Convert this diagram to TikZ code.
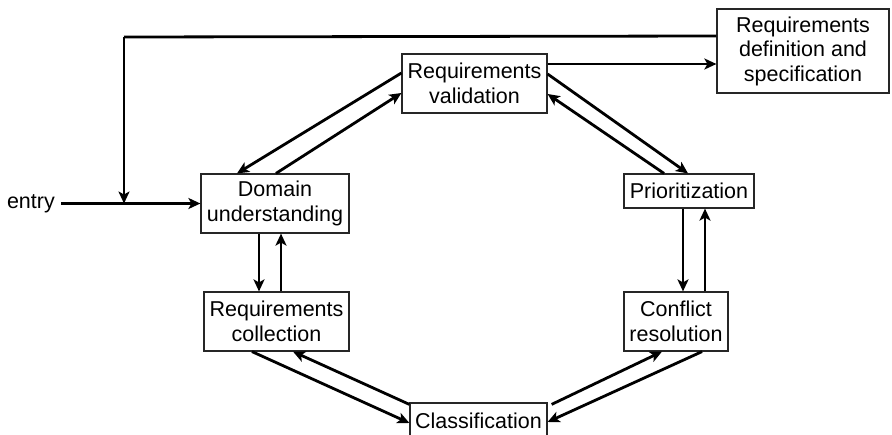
\documentclass[tikz,border=0pt]{standalone}
\usepackage{fontspec}
\setmainfont{Liberation Sans}
\usetikzlibrary{arrows.meta}
\begin{document}
\begin{tikzpicture}[x=1pt,y=-1pt,
  box/.style={draw=black!85, line width=1.2pt, fill=white, inner sep=2pt,
    align=center, font=\fontsize{21.5}{24.5}\selectfont},
  flow/.style={line width=2.8pt, -{Stealth[length=12pt,width=11pt,inset=3pt]}},
  plain/.style={line width=2.8pt}]
\useasboundingbox (0,0) rectangle (892,434);

% process boxes
\node[box, minimum width=145pt, minimum height=59pt] (rv) at (474.5,83.5) {Requirements\\validation};
\node[box, minimum width=172pt, minimum height=84pt] (rd) at (803,51) {Requirements\\definition and\\specification};
\node[box, minimum width=148pt, minimum height=59pt] (du) at (275,203.5) {Domain\\understanding};
\node[box, minimum width=130pt, minimum height=34pt] (pr) at (689,191) {Prioritization};
\node[box, minimum width=145pt, minimum height=59pt] (rc) at (276.5,321.5) {Requirements\\collection};
\node[box, minimum width=104pt, minimum height=59pt] (cr) at (676,321.5) {Conflict\\resolution};
\node[box, minimum width=137pt, minimum height=36pt] (cl) at (478.5,421) {Classification};

% entry point
\node[font=\fontsize{21.5}{24.5}\selectfont, inner sep=0pt, anchor=east] (entry) at (55,203.5) {entry};
\coordinate (fb) at (124,37);

\draw[flow, shorten <=6pt] (entry.east) -- (du.west);

% feedback from the specification back to the entry line
\draw[plain] ([yshift=15pt]rd.west) -- (fb);
\draw[flow] (fb) -- (fb |- du.west);

% validation -> specification
\draw[flow] ([yshift=19.5pt]rv.east) -- ([yshift=-13pt]rd.west);

% domain understanding <-> validation
\draw[flow] ([yshift=10.5pt]rv.west) -- ([xshift=-38pt]du.north);
\draw[flow] ([xshift=1pt]du.north) -- ([yshift=-9.5pt]rv.west);

% validation <-> prioritization
\draw[flow] ([yshift=9.5pt]rv.east) -- ([xshift=-1pt]pr.north);
\draw[flow] ([xshift=-25pt]pr.north) -- ([yshift=-10.5pt]rv.east);

% prioritization <-> conflict resolution
\draw[flow] ([xshift=-6pt]pr.south) -- ([xshift=-6pt]pr.south |- cr.north);
\draw[flow] ([xshift=29pt]cr.north) -- ([xshift=29pt]cr.north |- pr.south);

% classification <-> conflict resolution
\draw[flow] ([xshift=4pt,yshift=-2pt]cl.north east) -- ([xshift=-14pt]cr.south);
\draw[flow] ([xshift=26pt]cr.south) -- ([yshift=-1pt]cl.east);

% requirements collection <-> classification
\draw[flow] ([xshift=-24.5pt]rc.south) -- ([yshift=-2pt]cl.west);
\draw[flow] ([yshift=-2pt]cl.north west) -- ([xshift=16.5pt]rc.south);

% domain understanding <-> requirements collection
\draw[flow] ([xshift=-16pt]du.south) -- ([xshift=-16pt]du.south |- rc.north);
\draw[flow] ([xshift=4.5pt]rc.north) -- ([xshift=4.5pt]rc.north |- du.south);
\end{tikzpicture}
\end{document}
